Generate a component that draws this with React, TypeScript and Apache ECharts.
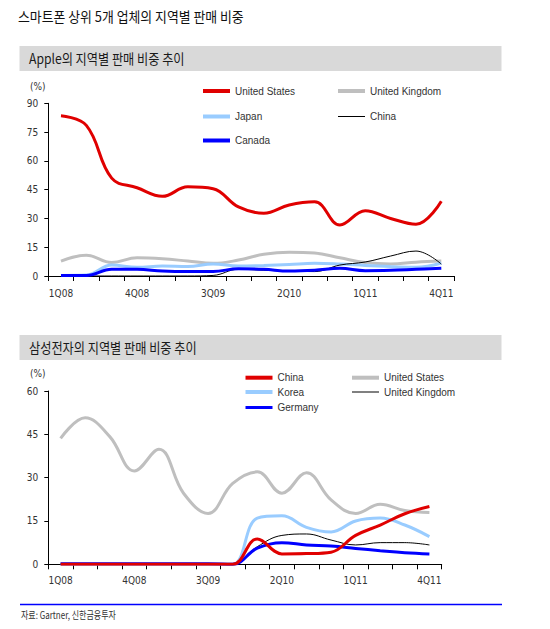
import React, { useEffect, useRef } from 'react';
import * as echarts from 'echarts';

// ---------- data ----------
const quarters = ['1Q08', '2Q08', '3Q08', '4Q08', '1Q09', '2Q09', '3Q09', '4Q09', '1Q10', '2Q10', '3Q10', '4Q10', '1Q11', '2Q11', '3Q11', '4Q11'];
const yTicksApple = { min: 0, max: 90, interval: 15 };
const yTicksSamsung = { min: 0, max: 60, interval: 15 };

// Apple (%)
const appleUS = [83.5, 78.5, 51, 46, 41.5, 46.5, 45.5, 36, 32.7, 37, 38.7, 26.6, 34, 30, 27, 39];
const appleUK = [7.8, 10.8, 7, 9.5, 9, 7.8, 6.6, 8.3, 11.3, 12.4, 12, 9.5, 7, 6.3, 7.2, 7.8];
const appleJapan = [0.3, 0.5, 5.7, 4.5, 5.2, 4.9, 6.2, 5.2, 5.5, 6, 6.6, 6.2, 5.5, 4.9, 4.5, 6.8];
const appleChina = [0, 0, 0, 0, 0, 0, 0.3, 3.5, 3, 2.6, 2.3, 5.7, 7.3, 10.4, 13, 6.2];
const appleCanada = [0.3, 0.3, 3.5, 3.5, 2.6, 2.3, 2.3, 3.8, 3.5, 2.6, 3, 4, 2.8, 3, 3.5, 4];

// Samsung (%)
const samsungChina = [0, 0, 0, 0, 0, 0, 0, 0, 8.8, 3.6, 3.7, 4.2, 10, 13.6, 17.5, 20];
const samsungUS = [43.6, 50.7, 44.2, 32.3, 39.8, 24.6, 17.6, 28, 32, 24.6, 31.7, 22.3, 17.6, 20.8, 18.6, 17.9];
const samsungKorea = [0, 0, 0, 0, 0, 0, 0, 0, 16, 16.8, 12.8, 11.2, 15, 16, 13.6, 9.6];
const samsungUK = [0, 0, 0, 0, 0, 0, 0, 0, 6.1, 10, 10.5, 8.4, 6.7, 7.5, 7.5, 6.7];
const samsungGermany = [0.2, 0.2, 0.2, 0.2, 0.2, 0.2, 0.2, 0, 5.6, 7.5, 6.7, 6.3, 5.5, 4.7, 4, 3.6];

// ---------- styles ----------
const AXIS_FONT = '"Liberation Sans Narrow", "Arial Narrow", "DejaVu Sans Condensed", sans-serif';
const LEGEND_FONT = '"Liberation Sans", Arial, sans-serif';
const KR_FONT = '"Noto Sans CJK KR", sans-serif';
const RED = '#e00000';
const GRAY = '#bfbfbf';
const LIGHTBLUE = '#99ccff';
const BLUE = '#0000ff';
const BLACK = '#000000';

function xAxis(margin: number) {
  return {
    type: 'category',
    data: quarters,
    boundaryGap: true,
    axisLine: { show: true, lineStyle: { color: '#000', width: 1 } },
    axisTick: { show: true, interval: 0, length: 5, lineStyle: { color: '#000' } },
    axisLabel: { interval: 2, margin, fontSize: 10, color: '#333', fontFamily: AXIS_FONT },
    splitLine: { show: false },
  };
}

function yAxis(t: { min: number; max: number; interval: number }) {
  return {
    type: 'value',
    min: t.min,
    max: t.max,
    interval: t.interval,
    axisLine: { show: true, lineStyle: { color: '#000', width: 1 } },
    axisTick: { show: true, length: 4, lineStyle: { color: '#000' } },
    axisLabel: { margin: 10, fontSize: 10, color: '#333', fontFamily: AXIS_FONT },
    splitLine: { show: false },
  };
}

function line(name: string, data: number[], color: string, width: number, z: number) {
  return {
    type: 'line',
    name,
    data,
    smooth: 0.4,
    symbol: 'none',
    lineStyle: { color, width },
    itemStyle: { color },
    z,
  };
}

function legendItem(name: string, left: number, rowY: number, thickness: number) {
  return {
    orient: 'horizontal',
    left,
    top: rowY - 6,
    padding: 0,
    icon: 'rect',
    itemWidth: 27,
    itemHeight: thickness,
    selectedMode: false,
    textStyle: { fontSize: 10, color: '#333', fontFamily: LEGEND_FONT, lineHeight: 12 },
    data: [name],
  };
}

function headerGraphics(title: string, rectY: number, pctY: number, mainTitle?: string) {
  const g: any[] = [];
  if (mainTitle) {
    g.push({
      type: 'text',
      x: 18,
      y: 16,
      scaleX: 0.92,
      style: { text: mainTitle, fontSize: 14, fontFamily: KR_FONT, fill: '#111', verticalAlign: 'middle' },
    });
  }
  g.push({
    type: 'rect',
    shape: { x: 19.5, y: rectY, width: 482, height: 25 },
    style: { fill: '#d9d9d9' },
  });
  g.push({
    type: 'text',
    x: 29,
    y: rectY + 12.5,
    scaleX: 0.87,
    style: { text: title, fontSize: 14, fontFamily: KR_FONT, fill: '#1a1a1a', verticalAlign: 'middle' },
  });
  g.push({
    type: 'text',
    x: 30,
    y: pctY,
    style: { text: '(%)', fontSize: 10, fontFamily: AXIS_FONT, fill: '#333', verticalAlign: 'middle' },
  });
  return g;
}

function topOption() {
  return {
    animation: false,
    backgroundColor: '#fff',
    graphic: headerGraphics('Apple의 지역별 판매 비중 추이', 46, 86, '스마트폰 상위 5개 업체의 지역별 판매 비중'),
    grid: { left: 48.3, top: 103.3, width: 405.7, height: 172.7, containLabel: false },
    xAxis: xAxis(12),
    yAxis: yAxis(yTicksApple),
    legend: [
      legendItem('United States', 203, 91, 4),
      legendItem('Japan', 203, 116.5, 4),
      legendItem('Canada', 203, 140.5, 4),
      legendItem('United Kingdom', 338, 91, 4),
      legendItem('China', 338, 116.5, 1),
    ],
    series: [
      line('United Kingdom', appleUK, GRAY, 3, 1),
      line('Japan', appleJapan, LIGHTBLUE, 3, 2),
      line('China', appleChina, BLACK, 1, 3),
      line('Canada', appleCanada, BLUE, 3, 4),
      line('United States', appleUS, RED, 3, 5),
    ],
  };
}

function bottomOption() {
  const g = headerGraphics('삼성전자의 지역별 판매 비중 추이', 15, 53);
  g.push({
    type: 'line',
    shape: { x1: 20, y1: 284.5, x2: 502, y2: 284.5 },
    style: { stroke: '#0000ff', lineWidth: 1.5 },
  });
  g.push({
    type: 'text',
    x: 21,
    y: 295,
    scaleX: 0.8,
    style: { text: '자료: Gartner, 신한금융투자', fontSize: 10, fontFamily: KR_FONT, fill: '#333', verticalAlign: 'middle' },
  });
  return {
    animation: false,
    backgroundColor: '#fff',
    graphic: g,
    grid: { left: 48.3, top: 71, width: 393.4, height: 173.3, containLabel: false },
    xAxis: xAxis(11),
    yAxis: yAxis(yTicksSamsung),
    legend: [
      legendItem('China', 245.5, 57.7, 4),
      legendItem('Korea', 245.5, 72, 4),
      legendItem('Germany', 245.5, 87.5, 3),
      legendItem('United States', 352, 57.7, 4),
      legendItem('United Kingdom', 352, 72, 1),
    ],
    series: [
      line('United States', samsungUS, GRAY, 3, 1),
      line('Korea', samsungKorea, LIGHTBLUE, 3, 2),
      line('United Kingdom', samsungUK, BLACK, 1, 3),
      line('Germany', samsungGermany, BLUE, 3, 4),
      line('China', samsungChina, RED, 3, 5),
    ],
  };
}

function Chart({ option, style }: { option: any; style: React.CSSProperties }) {
  const ref = useRef<HTMLDivElement>(null);
  useEffect(() => {
    if (!ref.current) return;
    const chart = echarts.init(ref.current, undefined, { renderer: 'svg' });
    chart.setOption(option);
    return () => chart.dispose();
  }, [option]);
  return <div ref={ref} style={style} />;
}

const TOP = topOption();
const BOTTOM = bottomOption();

export default function App() {
  return (
    <div style={{ position: 'fixed', left: 0, top: 0, width: 550, height: 629, background: '#fff' }}>
      <Chart option={TOP} style={{ position: 'absolute', left: 0, top: 0, width: 550, height: 320 }} />
      <Chart option={BOTTOM} style={{ position: 'absolute', left: 0, top: 320, width: 550, height: 309 }} />
    </div>
  );
}
